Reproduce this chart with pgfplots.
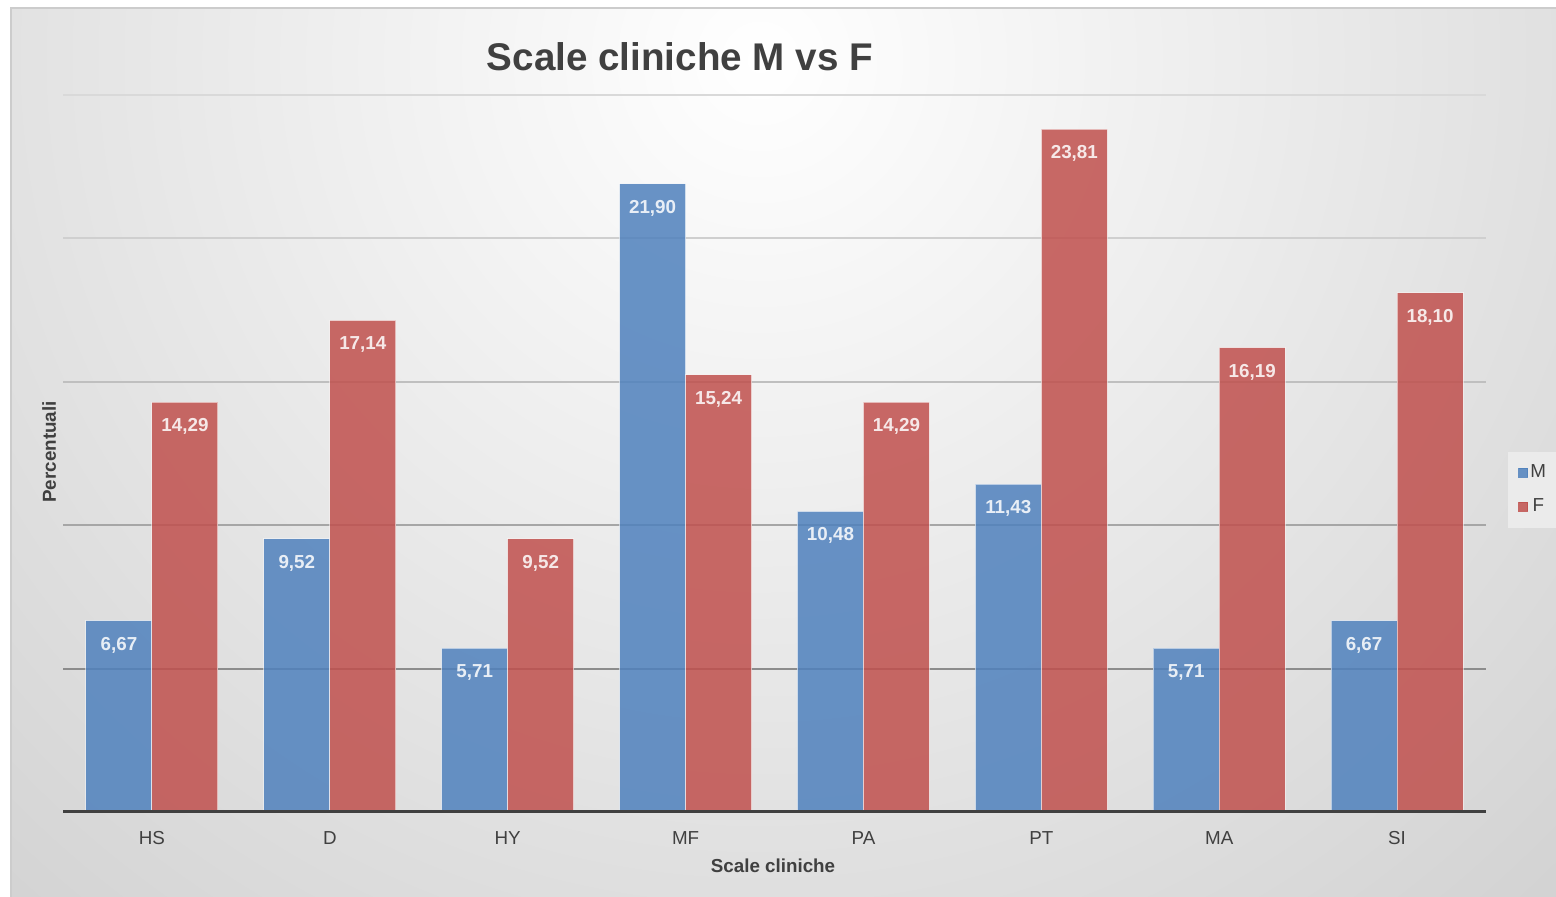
\documentclass[border=0pt]{standalone}
\usepackage{fontspec}
\setmainfont{Liberation Sans}
\usepackage{pgfplots}
\pgfplotsset{compat=1.18}

\definecolor{mblue}{HTML}{4F81BD}
\definecolor{fred}{HTML}{C0504D}
\definecolor{txt}{HTML}{404040}
\definecolor{bgouter}{HTML}{D0D0D0}
\definecolor{gridA}{HTML}{8C8C8C}
\definecolor{gridB}{HTML}{A6A6A6}
\definecolor{gridC}{HTML}{BFBFBF}
\definecolor{gridD}{HTML}{CFCFCF}
\definecolor{gridE}{HTML}{D9D9D9}

\pgfplotstableread{
x  M      F
0  6.67   14.29
1  9.52   17.14
2  5.71   9.52
3  21.90  15.24
4  10.48  14.29
5  11.43  23.81
6  5.71   16.19
7  6.67   18.10
}\scaletable

\begin{document}
\begin{tikzpicture}
\useasboundingbox (-31.5pt,-42.5pt) rectangle (746.5pt,406pt);
% chart area background
\begin{scope}
  \clip (-26pt,-44pt) rectangle (748pt,402pt);
  \shade[inner color=white, outer color=bgouter] (348.5pt,376pt) circle (610pt);
\end{scope}
\draw[line width=0.8pt, draw=black!20] (-26pt,-44pt) rectangle (748pt,402pt);

\begin{axis}[
  scale only axis, width=711.5pt, height=358.5pt,
  at={(0,0)}, anchor=south west,
  xmin=-0.5, xmax=7.5, ymin=0, ymax=25,
  axis line style={draw=none},
  ytick=\empty,
  xtick={0,...,7},
  xticklabels={HS,D,HY,MF,PA,PT,MA,SI},
  major tick length=0pt,
  xticklabel style={anchor=base, yshift=-16.5pt,
    font=\fontsize{9.4}{11}\selectfont, text=txt},
  ybar=0pt, bar width=33pt,
  nodes near coords,
  /pgf/number format/fixed,
  /pgf/number format/fixed zerofill,
  /pgf/number format/precision=2,
  /pgf/number format/use comma,
  /pgf/number format/assume math mode=true,
  every node near coord/.append style={anchor=base, yshift=-14.7pt,
    font=\bfseries\fontsize{9.4}{11}\selectfont, text=white},
  legend style={at={(rel axis cs:1,0.4495)}, anchor=west, xshift=11pt,
    draw=none, fill=white!92!black, font=\fontsize{9.4}{11}\selectfont,
    text=txt, inner xsep=5pt, inner ysep=5.5pt, row sep=7pt,
    nodes={inner sep=1pt}},
  clip=false,
]
% horizontal grid
\draw[gridE, line width=1pt] (axis cs:-0.5,25) -- (axis cs:7.5,25);
\draw[gridD, line width=1pt] (axis cs:-0.5,20) -- (axis cs:7.5,20);
\draw[gridC, line width=1pt] (axis cs:-0.5,15) -- (axis cs:7.5,15);
\draw[gridB, line width=1pt] (axis cs:-0.5,10) -- (axis cs:7.5,10);
\draw[gridA, line width=1pt] (axis cs:-0.5,5) -- (axis cs:7.5,5);

\addplot[fill=mblue, fill opacity=0.85, draw=white, draw opacity=0.55,
  line width=0.5pt,
  legend image code/.code={\fill[mblue, opacity=0.85] (0pt,-2.25pt) rectangle (4.5pt,2.25pt);}]
  table[x=x, y=M] {\scaletable};
\addlegendentry{M}
\addplot[fill=fred, fill opacity=0.85, draw=white, draw opacity=0.55,
  line width=0.5pt,
  legend image code/.code={\fill[fred, opacity=0.85] (0pt,-2.25pt) rectangle (4.5pt,2.25pt);}]
  table[x=x, y=F] {\scaletable};
\addlegendentry{F}

% baseline
\draw[txt, line width=1.5pt] (axis cs:-0.5,0) -- (axis cs:7.5,0);
\end{axis}

\node[anchor=base, text=txt, font=\bfseries\fontsize{19.3}{23}\selectfont]
  at (308.5pt,370.5pt) {Scale cliniche M vs F};
\node[anchor=base, text=txt, font=\bfseries\fontsize{9.4}{11}\selectfont]
  at (355pt,-30.3pt) {Scale cliniche};
\node[anchor=base, rotate=90, text=txt, font=\bfseries\fontsize{9.4}{11}\selectfont]
  at (-3.5pt,180pt) {Percentuali};
\end{tikzpicture}
\end{document}
